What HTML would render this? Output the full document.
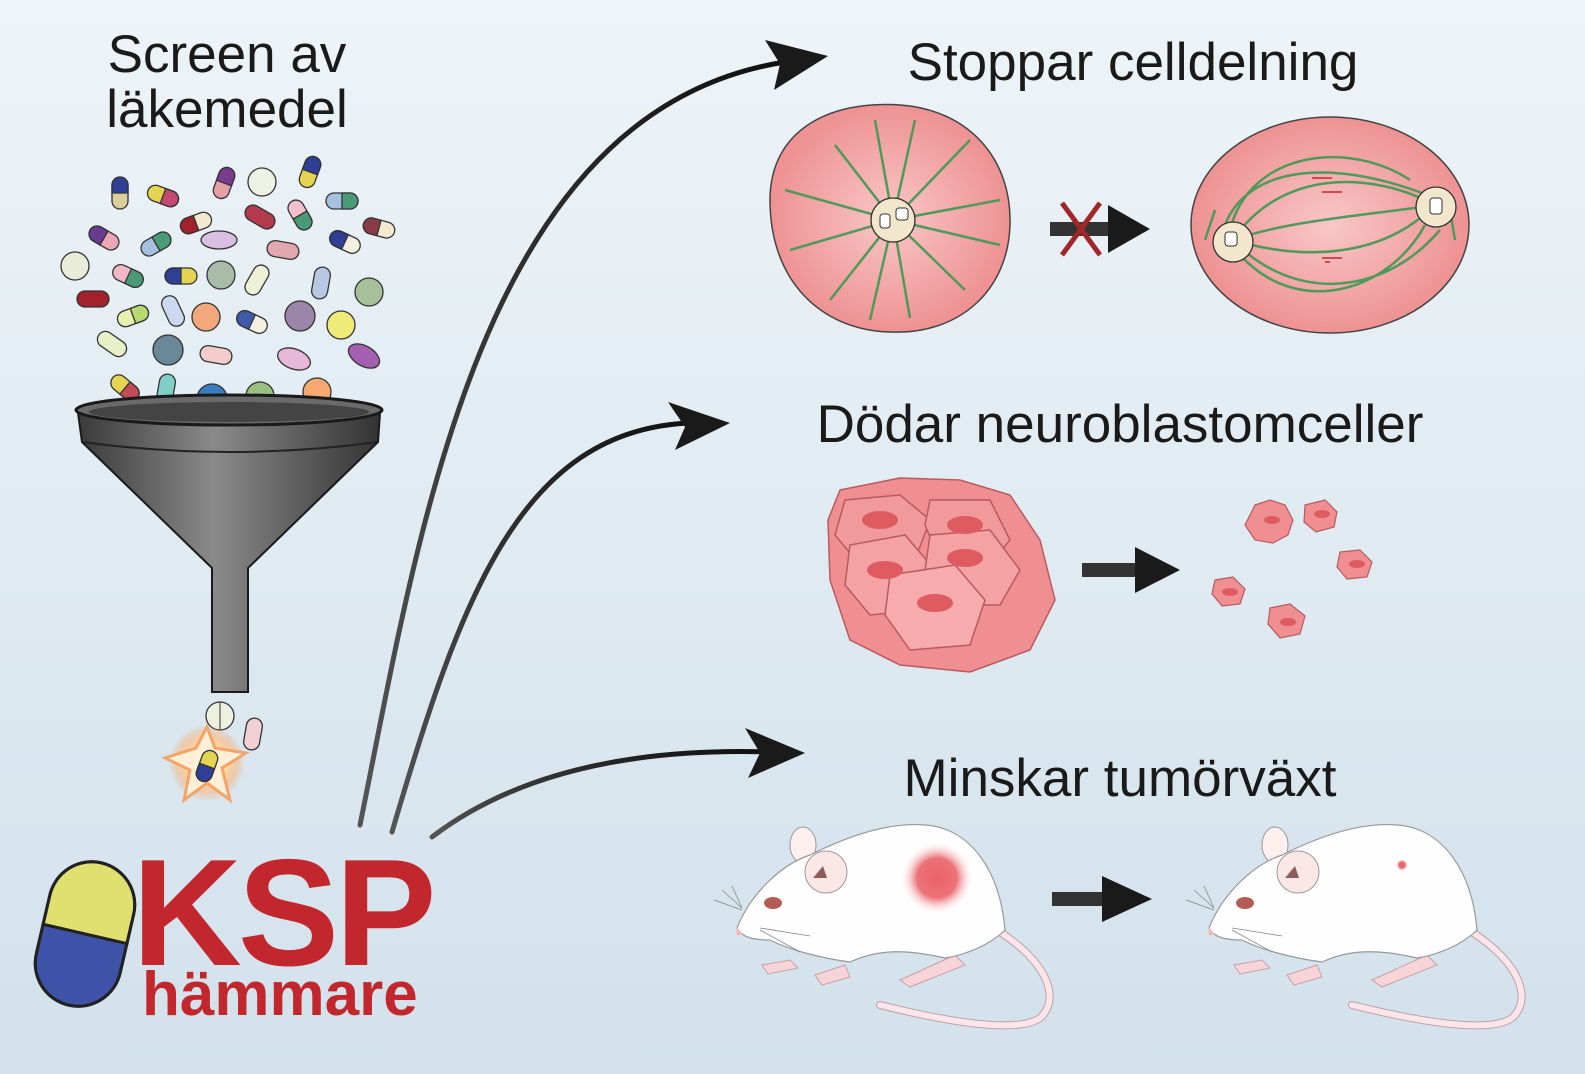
<!DOCTYPE html>
<html><head><meta charset="utf-8"><style>
html,body{margin:0;padding:0;}
body{width:1585px;height:1074px;overflow:hidden;}
svg{display:block;}
text{font-family:"Liberation Sans",sans-serif;}
</style></head><body>
<svg width="1585" height="1074" viewBox="0 0 1585 1074" xmlns="http://www.w3.org/2000/svg">
<defs>
<linearGradient id="bg" x1="0" y1="0" x2="0" y2="1"><stop offset="0" stop-color="#eef4f8"/><stop offset="1" stop-color="#d2e1eb"/></linearGradient>
<radialGradient id="cell" cx="0.5" cy="0.5" r="0.5"><stop offset="0" stop-color="#f9c7c7"/><stop offset="1" stop-color="#ee9293"/></radialGradient>
<radialGradient id="tum" cx="0.5" cy="0.5" r="0.5"><stop offset="0" stop-color="#e9636a"/><stop offset="0.55" stop-color="#ec7277"/><stop offset="1" stop-color="#fdeeee" stop-opacity="0"/></radialGradient>
<radialGradient id="glow" cx="0.5" cy="0.5" r="0.5"><stop offset="0" stop-color="#fff5e0"/><stop offset="0.6" stop-color="#fbd0a0"/><stop offset="1" stop-color="#f49a5a" stop-opacity="0"/></radialGradient>
<linearGradient id="fun" x1="0" y1="0" x2="1" y2="0"><stop offset="0" stop-color="#3a3a3a"/><stop offset="0.45" stop-color="#8a8a8a"/><stop offset="1" stop-color="#333"/></linearGradient>
<linearGradient id="arr" x1="0" y1="1" x2="1" y2="0"><stop offset="0" stop-color="#555"/><stop offset="1" stop-color="#111"/></linearGradient>
<g id="mouse">
 <path d="M180,205 C260,225 320,232 340,218 C360,200 350,165 300,132" fill="none" stroke="#bfa0a8" stroke-width="8" stroke-linecap="round"/>
 <path d="M180,205 C260,225 320,232 340,218 C360,200 350,165 300,132" fill="none" stroke="#fce6ea" stroke-width="6" stroke-linecap="round"/>
 <path d="M62,165 l28,-5 l8,8 l-30,6z M115,175 l30,-10 l5,12 l-28,8z M200,180 l55,-25 l10,10 l-55,22z" fill="#f6d4d8" stroke="#c9a0a5" stroke-width="1"/>
 <ellipse cx="103" cy="45" rx="13" ry="18" fill="#fdf0ef" stroke="#999" stroke-width="1"/>
 <path d="M37,128 C50,95 80,65 110,55 C150,35 190,22 225,25 C270,28 300,70 305,130 C290,145 265,155 245,158 C210,150 180,148 150,162 C120,158 90,150 70,140 C55,140 42,138 37,128 Z" fill="#fefefe" stroke="#999" stroke-width="1.2"/>
 <circle cx="126" cy="72" r="21" fill="#fbe8e6" stroke="#999" stroke-width="1"/>
 <path d="M113,78 l10,-12 l4,12z" fill="#8b5e5e"/>
 <ellipse cx="73" cy="103" rx="9" ry="6" fill="#b55b55"/>
 <path d="M36,126 l6,8 l-5,2z" fill="#f3b7be"/>
 <g stroke="#888" stroke-width="0.8" fill="none"><path d="M42,110 l-28,-10 M42,108 l-20,-18 M42,108 l-10,-22 M60,128 l50,8 M60,130 l40,22"/></g>
</g>
</defs>
<rect width="1585" height="1074" fill="url(#bg)"/>

<!-- titles -->
<text x="227" y="72" font-size="53" text-anchor="middle" fill="#1a1a1a">Screen av</text>
<text x="227" y="127" font-size="53" text-anchor="middle" fill="#1a1a1a">läkemedel</text>
<text x="1133" y="80" font-size="53" text-anchor="middle" fill="#1a1a1a">Stoppar celldelning</text>
<text x="1120" y="442" font-size="53" text-anchor="middle" fill="#1a1a1a">Dödar neuroblastomceller</text>
<text x="1120" y="796" font-size="53" text-anchor="middle" fill="#1a1a1a">Minskar tumörväxt</text>

<!-- pills -->
<g stroke="#333" stroke-width="1.3">
<g transform="translate(120,193) rotate(0)"><rect x="-8" y="-16" width="16" height="32" rx="8" fill="#d8cf9a"/><path d="M-8,0 v-8 a8,8 0 0 1 16,0 v8z" fill="#2f3f95"/></g>
<g transform="translate(163,196) rotate(20)"><rect x="-16" y="-8" width="32" height="16" rx="8" fill="#e4d452"/><path d="M0,-8 h8 a8,8 0 0 1 0,16 h-8z" fill="#c54870"/></g>
<g transform="translate(224,183) rotate(-70)"><rect x="-16" y="-8" width="32" height="16" rx="8" fill="#e5a0a6"/><path d="M0,-8 h8 a8,8 0 0 1 0,16 h-8z" fill="#7a3b8f"/></g>
<circle cx="262" cy="182" r="14" fill="#eef2e4"/>
<g transform="translate(310,172) rotate(-70)"><rect x="-16" y="-8" width="32" height="16" rx="8" fill="#e4d452"/><path d="M0,-8 h8 a8,8 0 0 1 0,16 h-8z" fill="#2f3f95"/></g>
<g transform="translate(342,201) rotate(0)"><rect x="-16" y="-8" width="32" height="16" rx="8" fill="#a6c0e0"/><path d="M0,-8 h8 a8,8 0 0 1 0,16 h-8z" fill="#4a9a78"/></g>
<g transform="translate(196,223) rotate(-20)"><rect x="-16" y="-8" width="32" height="16" rx="8" fill="#f3e8d0"/><path d="M-16,0 a8,8 0 0 1 8,-8 h8 v16 h-8 a8,8 0 0 1 -8,-8z" fill="#a1222d"/></g>
<g transform="translate(260,217) rotate(30)"><rect x="-16" y="-8" width="32" height="16" rx="8" fill="#b23a4a"/></g>
<g transform="translate(300,215) rotate(60)"><rect x="-16" y="-8" width="32" height="16" rx="8" fill="#f2c0cc"/><path d="M0,-8 h8 a8,8 0 0 1 0,16 h-8z" fill="#4a9a78"/></g>
<g transform="translate(379,228) rotate(15)"><rect x="-16" y="-8" width="32" height="16" rx="8" fill="#f3e8d0"/><path d="M-16,0 a8,8 0 0 1 8,-8 h8 v16 h-8 a8,8 0 0 1 -8,-8z" fill="#8a3b48"/></g>
<g transform="translate(104,238) rotate(30)"><rect x="-16" y="-8" width="32" height="16" rx="8" fill="#e9a8b4"/><path d="M-16,0 a8,8 0 0 1 8,-8 h8 v16 h-8 a8,8 0 0 1 -8,-8z" fill="#6a3a90"/></g>
<g transform="translate(156,244) rotate(-30)"><rect x="-16" y="-8" width="32" height="16" rx="8" fill="#a6c0e0"/><path d="M0,-8 h8 a8,8 0 0 1 0,16 h-8z" fill="#4a9a78"/></g>
<ellipse cx="219" cy="240" rx="18" ry="9" fill="#d9c0e2"/>
<g transform="translate(283,250) rotate(10)"><rect x="-16" y="-8" width="32" height="16" rx="8" fill="#e2a8b0"/></g>
<g transform="translate(345,242) rotate(25)"><rect x="-16" y="-8" width="32" height="16" rx="8" fill="#f3f0e0"/><path d="M-16,0 a8,8 0 0 1 8,-8 h8 v16 h-8 a8,8 0 0 1 -8,-8z" fill="#2f3f95"/></g>
<circle cx="75" cy="266" r="14" fill="#e8ecd8"/>
<g transform="translate(128,276) rotate(25)"><rect x="-16" y="-8" width="32" height="16" rx="8" fill="#f2b8c6"/><path d="M0,-8 h8 a8,8 0 0 1 0,16 h-8z" fill="#4a9a78"/></g>
<g transform="translate(181,276)"><rect x="-16" y="-8" width="32" height="16" rx="8" fill="#e4d452"/><path d="M-16,0 a8,8 0 0 1 8,-8 h8 v16 h-8 a8,8 0 0 1 -8,-8z" fill="#2f3f95"/></g>
<circle cx="221" cy="275" r="14" fill="#a8bca8"/>
<g transform="translate(257,280) rotate(-60)"><rect x="-16" y="-8" width="32" height="16" rx="8" fill="#eef0d8"/></g>
<g transform="translate(321,283) rotate(-80)"><rect x="-16" y="-8" width="32" height="16" rx="8" fill="#b8c8e4"/></g>
<g transform="translate(93,299)"><rect x="-16" y="-8" width="32" height="16" rx="8" fill="#a1222d"/></g>
<circle cx="369" cy="292" r="14" fill="#a8c09a"/>
<g transform="translate(133,316) rotate(-20)"><rect x="-16" y="-8" width="32" height="16" rx="8" fill="#e8f0b0"/><path d="M0,-8 h8 a8,8 0 0 1 0,16 h-8z" fill="#b8d870"/></g>
<g transform="translate(173,311) rotate(65)"><rect x="-16" y="-8" width="32" height="16" rx="8" fill="#ccd8f0"/></g>
<circle cx="206" cy="317" r="14" fill="#f2a87a"/>
<g transform="translate(252,322) rotate(25)"><rect x="-16" y="-8" width="32" height="16" rx="8" fill="#f3f0e0"/><path d="M-16,0 a8,8 0 0 1 8,-8 h8 v16 h-8 a8,8 0 0 1 -8,-8z" fill="#3f5aa8"/></g>
<circle cx="300" cy="316" r="15" fill="#9a86a8"/>
<circle cx="341" cy="325" r="14" fill="#f0ea78"/>
<g transform="translate(112,344) rotate(35)"><rect x="-16" y="-8" width="32" height="16" rx="8" fill="#e8f0c8"/></g>
<circle cx="168" cy="350" r="15" fill="#6a8898"/>
<g transform="translate(216,355) rotate(10)"><rect x="-16" y="-8" width="32" height="16" rx="8" fill="#f4cccc"/></g>
<ellipse cx="294" cy="359" rx="17" ry="10" transform="rotate(20 294 359)" fill="#e6b8da"/>
<ellipse cx="364" cy="356" rx="17" ry="10" transform="rotate(30 364 356)" fill="#a45fb0"/>
<g transform="translate(125,388) rotate(40)"><rect x="-16" y="-8" width="32" height="16" rx="8" fill="#e4d452"/><path d="M0,-8 h8 a8,8 0 0 1 0,16 h-8z" fill="#c44a5a"/></g>
<g transform="translate(166,390) rotate(-80)"><rect x="-16" y="-8" width="32" height="16" rx="8" fill="#80d0c8"/></g>
<circle cx="212" cy="399" r="15" fill="#3a7cc0"/>
<circle cx="260" cy="396" r="14" fill="#98c080"/>
<circle cx="317" cy="392" r="14" fill="#f5a870"/>
</g>

<!-- funnel -->
<path d="M78,413 L380,413 L378,442 L248,568 L248,692 L212,692 L212,568 L82,442 Z" fill="url(#fun)" stroke="#1a1a1a" stroke-width="2"/>
<path d="M82,442 Q230,462 378,442" fill="none" stroke="#222" stroke-width="2"/>
<ellipse cx="229" cy="410" rx="153" ry="15" fill="#6a6a6a" stroke="#1a1a1a" stroke-width="3"/>
<ellipse cx="229" cy="412" rx="140" ry="10" fill="#444"/>

<!-- falling pills -->
<circle cx="220" cy="716" r="14" fill="#eef0e0" stroke="#333" stroke-width="1.3"/>
<line x1="220" y1="702" x2="220" y2="730" stroke="#333"/>
<g transform="translate(253,734) rotate(-80)" stroke="#333" stroke-width="1.3"><rect x="-16" y="-8" width="32" height="16" rx="8" fill="#f0d0d4"/></g>
<circle cx="207" cy="763" r="38" fill="url(#glow)"/>
<path d="M207,727 L215,748 L246,753 L222,768 L230,800 L207,783 L184,800 L190,770 L165,758 L196,748Z" fill="#fff3dc" stroke="#f4a060" stroke-width="3" opacity="0.9"/>
<g transform="translate(207,766) rotate(20)" stroke="#333" stroke-width="1.3"><rect x="-8" y="-16" width="16" height="32" rx="8" fill="#e4d452"/><path d="M-8,0 v8 a8,8 0 0 0 16,0 v-8z" fill="#2f3f95"/></g>

<!-- big capsule -->
<g transform="translate(85,934) rotate(13)" stroke="#222" stroke-width="3">
<path d="M-43,0 V-30 A43,43 0 0 1 43,-30 V0Z" fill="#e0e070"/>
<path d="M-43,0 V30 A43,43 0 0 0 43,30 V0Z" fill="#3e53a8"/>
<rect x="-43" y="-73" width="86" height="146" rx="43" fill="none"/>
</g>
<text x="132" y="965" font-size="152" font-weight="bold" fill="#c1272d" letter-spacing="-4">KSP</text>
<text x="142" y="1015" font-size="62" font-weight="bold" fill="#c1272d">hämmare</text>

<!-- arrows -->
<g fill="none" stroke="url(#arr)" stroke-linecap="round">
<path d="M360,825 C420,530 480,110 785,62" stroke-width="5"/>
<path d="M392,832 C460,600 520,430 690,423" stroke-width="5"/>
<path d="M432,837 C520,770 640,748 770,752" stroke-width="5"/>
</g>
<path d="M828,56 L765,40 L780,64 L774,90Z" fill="#1a1a1a"/>
<path d="M730,423 L668,402 L685,427 L675,450Z" fill="#1a1a1a"/>
<path d="M805,753 L745,728 L760,753 L748,778Z" fill="#1a1a1a"/>

<!-- cell 1 -->
<path d="M770,200 C770,130 830,100 900,105 C970,110 1012,160 1010,225 C1008,290 960,335 890,332 C820,330 770,280 770,200Z" fill="url(#cell)" stroke="#444" stroke-width="1.5"/>
<g stroke="#4f9a5a" stroke-width="2.5" fill="none">
<path d="M893,220 L875,120 M893,220 L835,145 M893,220 L785,190 M893,220 L790,250 M893,220 L830,300 M893,220 L870,320 M893,220 L910,318 M893,220 L965,290 M893,220 L1000,245 M893,220 L1000,200 M893,220 L970,140 M893,220 L915,120"/>
</g>
<circle cx="893" cy="220" r="22" fill="#f2e6cc" stroke="#333" stroke-width="1.3"/>
<rect x="880" y="214" width="10" height="14" rx="3" fill="#fff" stroke="#333"/>
<rect x="896" y="208" width="12" height="12" rx="3" fill="#fff" stroke="#333"/>
<!-- X arrow -->
<rect x="1050" y="222" width="60" height="14" fill="#333"/>
<path d="M1150,229 L1108,205 L1108,253Z" fill="#1a1a1a"/>
<path d="M1062,203 L1100,255 M1100,203 L1062,255" stroke="#a0262a" stroke-width="5"/>
<!-- cell 2 -->
<ellipse cx="1330" cy="225" rx="139" ry="108" fill="url(#cell)" stroke="#444" stroke-width="1.5"/>
<g stroke="#4f9a5a" stroke-width="2.5" fill="none">
<path d="M1233,240 C1280,170 1370,170 1435,205 M1233,240 C1290,220 1370,215 1435,205 M1233,240 C1300,260 1380,260 1435,205 M1233,240 C1290,300 1380,300 1440,230 M1220,245 C1230,170 1320,150 1440,200 M1230,230 C1250,150 1350,140 1410,180 M1240,255 C1300,320 1390,290 1425,225 M1205,240 L1215,210 M1450,210 L1455,240"/>
</g>
<path d="M1312,178 l20,0 M1322,192 l20,0 M1322,258 l20,0 M1330,262 l-5,0" stroke="#d04a50" stroke-width="2"/>
<circle cx="1233" cy="242" r="20" fill="#f2e6cc" stroke="#333" stroke-width="1.3"/>
<rect x="1225" y="232" width="12" height="14" rx="3" fill="#fff" stroke="#333"/>
<circle cx="1436" cy="207" r="20" fill="#f2e6cc" stroke="#333" stroke-width="1.3"/>
<rect x="1430" y="198" width="12" height="16" rx="3" fill="#fff" stroke="#333"/>

<!-- cell cluster -->
<g stroke="#b85a60" stroke-width="1.5" fill="#ef8f92">
<path d="M840,490 L900,478 L960,480 L1010,495 L1040,540 L1055,600 L1030,650 L970,672 L900,665 L850,640 L830,580 L828,520Z"/>
<path d="M845,500 L900,495 L930,520 L915,560 L860,565 L835,535Z" fill="#f19a9c"/>
<path d="M930,500 L990,500 L1010,540 L985,570 L940,560 L925,525Z" fill="#f19a9c"/>
<path d="M850,545 L905,535 L935,570 L920,610 L870,615 L845,585Z" fill="#f4a2a4"/>
<path d="M930,535 L990,530 L1020,570 L1000,605 L950,605 L925,570Z" fill="#f4a2a4"/>
<path d="M890,575 L955,565 L985,600 L970,645 L910,650 L885,615Z" fill="#f6acad"/>
</g>
<g fill="#de5c60">
<ellipse cx="880" cy="520" rx="18" ry="9"/><ellipse cx="965" cy="525" rx="18" ry="9"/><ellipse cx="885" cy="570" rx="18" ry="9"/><ellipse cx="965" cy="558" rx="18" ry="9"/><ellipse cx="935" cy="603" rx="18" ry="9"/>
</g>
<rect x="1082" y="563" width="55" height="14" fill="#333"/>
<path d="M1180,570 L1135,547 L1135,593Z" fill="#1a1a1a"/>
<g stroke="#b85a60" fill="#ef8f92" stroke-width="1.2">
<path d="M1255,505 l15,-5 l15,5 l8,15 l-5,15 l-15,8 l-18,-3 l-10,-15z"/>
<path d="M1305,505 l20,-5 l12,12 l-3,15 l-18,5 l-12,-10z"/>
<path d="M1340,552 l20,-2 l12,12 l-5,15 l-20,2 l-10,-12z"/>
<path d="M1215,580 l18,-3 l12,12 l-5,15 l-18,2 l-10,-12z"/>
<path d="M1270,608 l20,-4 l15,12 l-5,18 l-20,4 l-12,-14z"/>
</g>
<g fill="#de5c60"><ellipse cx="1272" cy="520" rx="8" ry="4"/><ellipse cx="1322" cy="514" rx="8" ry="4"/><ellipse cx="1357" cy="564" rx="8" ry="4"/><ellipse cx="1230" cy="592" rx="8" ry="4"/><ellipse cx="1288" cy="622" rx="8" ry="4"/></g>

<!-- mice -->
<g transform="translate(700,800)"><use href="#mouse"/><circle cx="237" cy="78" r="36" fill="url(#tum)"/></g>
<g transform="translate(1172,800)"><use href="#mouse"/><circle cx="230" cy="65" r="6" fill="url(#tum)"/></g>
<rect x="1052" y="892" width="50" height="14" fill="#333"/>
<path d="M1152,899 L1102,876 L1102,922Z" fill="#1a1a1a"/>
</svg>
</body></html>
